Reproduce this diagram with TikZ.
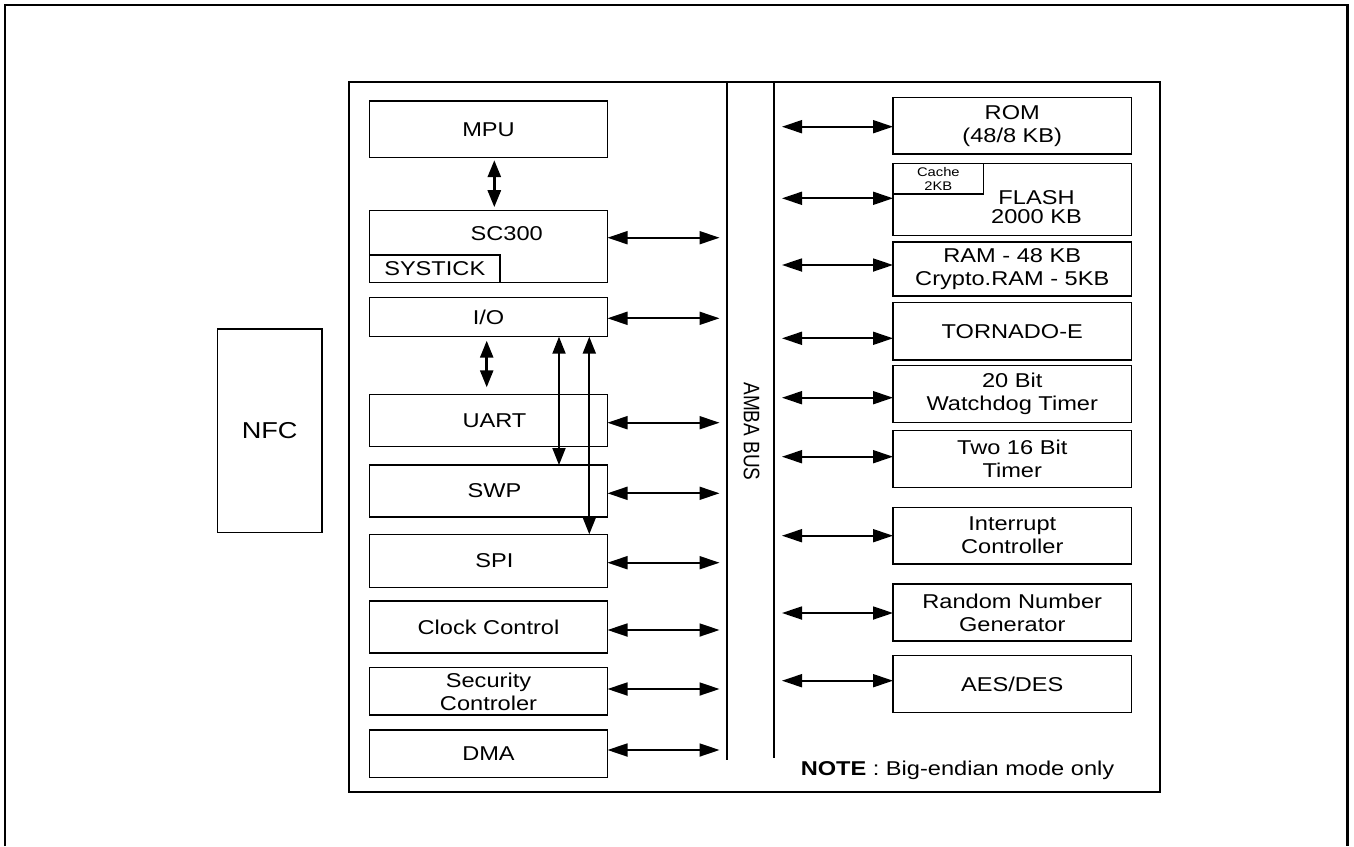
\documentclass[tikz,border=0pt]{standalone}
\usepackage{fontspec}
\setmainfont{Liberation Sans}[FakeStretch=1.18]
\newfontfamily\plainsans{Liberation Sans}
\usetikzlibrary{arrows.meta}
\begin{document}
\begin{tikzpicture}[x=1pt,y=-1pt,
  box/.style={draw, line width=1.5pt, inner sep=0pt, outer sep=0pt, anchor=north west, align=center, font=\fontsize{20}{23}\selectfont},
  lbox/.style={box, minimum width=238pt},
  rbox/.style={box, minimum width=238.5pt},
  harrow/.style={line width=1.8pt, {Triangle[length=20pt,width=13pt]}-{Triangle[length=20pt,width=13pt]}},
  varrow/.style={line width=2pt, {Triangle[length=17pt,width=13pt]}-{Triangle[length=17pt,width=13pt]}},
  busline/.style={line width=2pt},
  txt/.style={inner sep=0pt, align=center, font=\fontsize{20}{23}\selectfont}
]
\useasboundingbox (0,0) rectangle (1354,846);
% outer frame
\draw[line width=2.5pt] (5,846) -- (5,5) -- (1347.5,5) -- (1347.5,846);
% NFC
\node[box, minimum width=104.7pt, minimum height=203.7pt, font=\fontsize{23}{23}\selectfont] (nfc) at (217.3,329) {NFC};
% main block
\node[draw, line width=2pt, anchor=north west, minimum width=811pt, minimum height=710.5pt, inner sep=0pt, outer sep=0pt] (soc) at (349,81.5) {};
% bus
\coordinate (bl) at (719.5,0);
\coordinate (br) at (782,0);
\draw[busline] (soc.north -| 726.7,0) -- (726.7,760);
\draw[busline] (soc.north -| 774,0) -- (774,758.3);
\node[rotate=-90, inner sep=0pt] (amba) at (751.7,431.5) {\scalebox{1}[1.18]{\plainsans\fontsize{19}{19}\selectfont AMBA BUS}};
% left column
\node[lbox, minimum height=56.7pt] (mpu) at (369.5,101) {MPU};
\node[lbox, minimum height=71.6pt] (sc300) at (369.5,210.7) {};
\node[txt] (sctext) at (506.7,234) {SC300};
\node[box, minimum width=130.5pt, minimum height=27.3pt] (systick) at (369.5,255) {SYSTICK};
\node[lbox, minimum height=39pt] (io) at (369.5,297.7) {I/O};
\node[lbox, minimum height=52.4pt] (uart) at (369.5,394.3) {\hspace*{12pt}UART};
\node[lbox, minimum height=52pt] (swp) at (369.5,465) {\hspace*{12pt}SWP};
\node[lbox, minimum height=53pt] (spi) at (369.5,534.3) {\hspace*{12pt}SPI};
\node[lbox, minimum height=52pt] (clock) at (369.5,601) {Clock Control};
\node[lbox, minimum height=47.3pt] (sec) at (369.5,667.7) {Security\\Controler};
\node[lbox, minimum height=47.7pt] (dma) at (369.5,730) {DMA};
% right column
\node[rbox, minimum height=56.7pt] (rom) at (893,97.3) {ROM\\(48/8 KB)};
\node[rbox, minimum height=72pt] (flash) at (893,163.3) {};
\node[box, minimum width=90.7pt, minimum height=30.7pt, font=\fontsize{12.5}{14}\selectfont] (cache) at (893,163.3) {Cache\\2KB};
\node[txt, font=\fontsize{20}{19}\selectfont] (flashtext) at (1036.5,207.5) {FLASH\\2000 KB};
\node[rbox, minimum height=54pt] (ram) at (893,242) {RAM - 48 KB\\Crypto.RAM - 5KB};
\node[rbox, minimum height=57.3pt] (torn) at (893,302.7) {TORNADO-E};
\node[rbox, minimum height=57pt] (wd) at (893,365.7) {20 Bit\\Watchdog Timer};
\node[rbox, minimum height=56.6pt] (two) at (893,430.7) {Two 16 Bit\\Timer};
\node[rbox, minimum height=56.7pt] (intr) at (893,507.3) {Interrupt\\Controller};
\node[rbox, minimum height=57pt] (rng) at (893,584) {Random Number\\Generator};
\node[rbox, minimum height=57pt] (aes) at (893,655.7) {AES/DES};
\node[anchor=base, inner sep=0pt, font=\fontsize{20}{23}\selectfont] (note) at (957.5,775) {\textbf{NOTE} : Big-endian mode only};
% vertical arrows
\draw[varrow, line width=2.8pt, shorten <=2.5pt, shorten >=3.5pt] (mpu.south -| 494.3,0) -- (sc300.north -| 494.3,0);
\draw[varrow, line width=2.5pt, shorten <=4pt, shorten >=7pt] (io.south -| 486.7,0) -- (uart.north -| 486.7,0);
\draw[varrow] (io.south -| 559,0) -- (swp.north -| 559,0);
\draw[varrow] (io.south -| 589.3,0) -- (spi.north -| 589.3,0);
% left horizontal arrows
\draw[harrow] (sc300.east |- 0,237.7) -- (bl |- 0,237.7);
\draw[harrow] (io.east |- 0,318.3) -- (bl |- 0,318.3);
\draw[harrow] (uart.east |- 0,422.7) -- (bl |- 0,422.7);
\draw[harrow] (swp.east |- 0,493.3) -- (bl |- 0,493.3);
\draw[harrow] (spi.east |- 0,562.7) -- (bl |- 0,562.7);
\draw[harrow] (clock.east |- 0,630) -- (bl |- 0,630);
\draw[harrow] (sec.east |- 0,689) -- (bl |- 0,689);
\draw[harrow] (dma.east |- 0,750) -- (bl |- 0,750);
% right horizontal arrows
\draw[harrow] (br |- 0,126.7) -- (rom.west |- 0,126.7);
\draw[harrow] (br |- 0,198.3) -- (flash.west |- 0,198.3);
\draw[harrow] (br |- 0,265) -- (ram.west |- 0,265);
\draw[harrow] (br |- 0,338.3) -- (torn.west |- 0,338.3);
\draw[harrow] (br |- 0,397.7) -- (wd.west |- 0,397.7);
\draw[harrow] (br |- 0,456.7) -- (two.west |- 0,456.7);
\draw[harrow] (br |- 0,535.7) -- (intr.west |- 0,535.7);
\draw[harrow] (br |- 0,613) -- (rng.west |- 0,613);
\draw[harrow] (br |- 0,680.7) -- (aes.west |- 0,680.7);
\end{tikzpicture}
\end{document}
